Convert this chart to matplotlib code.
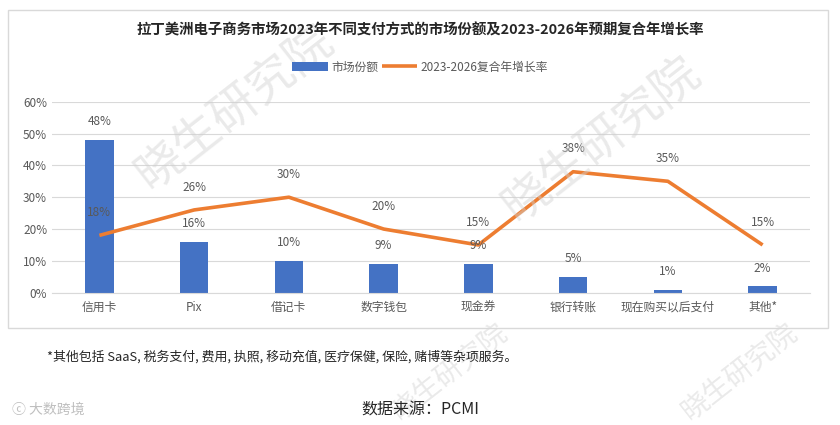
import matplotlib
matplotlib.use("Agg")
import matplotlib.pyplot as plt
from matplotlib.patches import Rectangle
import numpy as np

plt.rcParams['font.family'] = ['Noto Sans CJK SC', 'DejaVu Sans']

# 数据
categories = ['信用卡', 'Pix', '借记卡', '数字钱包', '现金券', '银行转账', '现在购买以后支付', '其他*']
market_share = [48, 16, 10, 9, 9, 5, 1, 2]
cagr = [18, 26, 30, 20, 15, 38, 35, 15]
y_ticks = [0, 10, 20, 30, 40, 50, 60]

bar_color = '#4472C4'
line_color = '#ED7D31'
text_gray = '#595959'

fig = plt.figure(figsize=(8.4, 4.25), dpi=100)
W, H = 840, 425

# 图表边框
fig.patches.append(Rectangle((8 / W, 1 - 328 / H), 820 / W, 318 / H, transform=fig.transFigure,
                             fill=False, edgecolor='#D9D9D9', linewidth=1))

# 水印
for (wx, wy, fs) in [(235, 108, 34), (602, 140, 34), (450, 372, 20), (740, 372, 20)]:
    fig.text(wx / W, 1 - wy / H, '晓生研究院', ha='center', va='center', rotation=38,
             fontsize=fs, color='#D0D0D0', alpha=0.45, zorder=0)

ax = fig.add_axes([52 / W, 1 - 292.7 / H, 758 / W, 191 / H])
ax.patch.set_alpha(0)
x = np.arange(len(categories))

bars = ax.bar(x, market_share, width=0.3, color=bar_color, label='市场份额', zorder=2)
line, = ax.plot(x, cagr, color=line_color, linewidth=2.6, label='2023-2026复合年增长率', zorder=3,
                solid_capstyle='butt')

for xi, v in zip(x, market_share):
    ax.annotate(f'{v}%', (xi, v), xytext=(0, 13), textcoords='offset points',
                ha='center', va='center', fontsize=8.5, color=text_gray, zorder=4)
for xi, v in zip(x, cagr):
    ax.annotate(f'{v}%', (xi, v), xytext=(0, 16.5), textcoords='offset points',
                ha='center', va='center', fontsize=8.5, color=text_gray, zorder=4)

ax.set_xlim(-0.5, len(categories) - 0.5)
ax.set_ylim(0, 60)
ax.set_yticks(y_ticks)
ax.set_yticklabels([f'{t}%' for t in y_ticks])
ax.set_xticks(x)
ax.set_xticklabels(categories)
ax.tick_params(axis='both', length=0, labelsize=8.5, colors=text_gray)
ax.tick_params(axis='x', pad=6)
ax.grid(axis='y', color='#D9D9D9', linewidth=0.8, zorder=0)
for s in ['top', 'right', 'left']:
    ax.spines[s].set_visible(False)
ax.spines['bottom'].set_color('#D9D9D9')

fig.text(420 / W, 1 - 30 / H, '拉丁美洲电子商务市场2023年不同支付方式的市场份额及2023-2026年预期复合年增长率',
         ha='center', va='center', fontsize=10.4, fontweight='bold', color='#262626')

fig.legend([bars, line], ['市场份额', '2023-2026复合年增长率'], loc='center',
           bbox_to_anchor=(420 / W, 1 - 67 / H), ncol=2, frameon=False,
           fontsize=8.5, handlelength=3, handletextpad=0.3, columnspacing=0.3,
           labelcolor=text_gray)

fig.text(47 / W, 1 - 357 / H, '*其他包括 SaaS, 税务支付, 费用, 执照, 移动充值, 医疗保健, 保险, 赌博等杂项服务。',
         ha='left', va='center', fontsize=9.3, color='#262626')
fig.text(420 / W, 1 - 410 / H, '数据来源：PCMI', ha='center', va='center', fontsize=11.5,
         style='italic', color='#262626')
fig.text(12 / W, 1 - 410 / H, 'ⓒ 大数跨境', ha='left', va='center', fontsize=10, color='#BFBFBF')

fig.savefig('out.png', dpi=100)
